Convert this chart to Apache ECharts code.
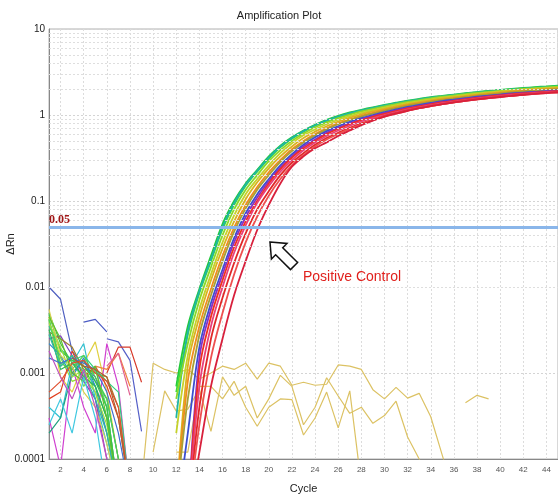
<!DOCTYPE html>
<html><head><meta charset="utf-8">
<script src="https://cdn.jsdelivr.net/npm/echarts@6/dist/echarts.min.js"></script>
<style>html,body{margin:0;padding:0;background:#fff}#c{width:558px;height:495px}</style>
</head><body><div id="c"></div>
<script>
// ---- categories / ticks ----
const cycles = ['1','2','3','4','5','6','7','8','9','10','11','12','13','14','15','16','17','18','19','20','21','22','23','24','25','26','27','28','29','30','31','32','33','34','35','36','37','38','39','40','41','42','43','44','45'];
const yTickLabels = [10, 1, 0.1, 0.01, 0.001, 0.0001];
const thresholdValue = 0.05;
const titleText = 'Amplification Plot';
const annotationText = 'Positive Control';

// ---- amplification curves (values from cycle 12 to 45) ----
const ampStart = 12;
const ampA = [0.0007,0.0035,0.0095,0.023,0.054,0.1,0.16,0.23,0.33,0.44,0.55,0.66,0.77,0.88,0.98,1.07,1.15,1.23,1.31,1.39,1.47,1.54,1.61,1.67,1.73,1.79,1.85,1.91,1.96,2.01,2.06,2.11,2.15,2.19];
const ampN = [0.0006,0.0028,0.0085,0.02,0.047,0.09,0.15,0.22,0.31,0.42,0.53,0.64,0.75,0.85,0.95,1.04,1.12,1.2,1.28,1.36,1.44,1.51,1.58,1.64,1.7,1.76,1.82,1.88,1.93,1.98,2.03,2.08,2.12,2.16];
const ampB = [0.0003,0.003,0.009,0.021,0.05,0.095,0.155,0.225,0.32,0.43,0.54,0.65,0.76,0.86,0.96,1.05,1.13,1.21,1.29,1.37,1.45,1.52,1.59,1.65,1.71,1.77,1.83,1.88,1.93,1.98,2.03,2.07,2.11,2.15];
const ampC = [0.0005,0.0022,0.007,0.017,0.04,0.08,0.135,0.2,0.29,0.39,0.5,0.61,0.72,0.82,0.92,1.01,1.1,1.18,1.26,1.34,1.42,1.49,1.56,1.63,1.69,1.75,1.81,1.86,1.91,1.96,2.01,2.05,2.09,2.13];
const ampD = [0.0002,0.0016,0.0055,0.014,0.033,0.068,0.12,0.18,0.26,0.36,0.47,0.58,0.68,0.78,0.88,0.97,1.06,1.14,1.22,1.3,1.38,1.45,1.52,1.59,1.65,1.71,1.77,1.83,1.88,1.93,1.98,2.02,2.06,2.1];
const ampE = [0.00003,0.0012,0.0045,0.012,0.028,0.058,0.105,0.165,0.24,0.33,0.43,0.54,0.64,0.74,0.84,0.93,1.02,1.1,1.18,1.26,1.34,1.41,1.48,1.55,1.61,1.67,1.73,1.79,1.84,1.89,1.94,1.98,2.02,2.06];
const ampF = [0.00003,0.0008,0.0035,0.0095,0.023,0.049,0.09,0.145,0.215,0.3,0.4,0.5,0.6,0.7,0.8,0.89,0.98,1.06,1.14,1.22,1.3,1.37,1.44,1.51,1.57,1.63,1.69,1.75,1.8,1.85,1.9,1.94,1.98,2.02];
const ampG = [0.00003,0.0005,0.0028,0.008,0.02,0.044,0.082,0.135,0.2,0.285,0.38,0.48,0.58,0.68,0.78,0.87,0.96,1.04,1.12,1.2,1.28,1.35,1.42,1.49,1.55,1.61,1.67,1.73,1.78,1.83,1.88,1.92,1.96,2.0];
const ampH = [0.00002,0.0002,0.002,0.0065,0.016,0.037,0.072,0.12,0.18,0.26,0.35,0.45,0.55,0.65,0.74,0.83,0.92,1.0,1.08,1.16,1.24,1.31,1.38,1.45,1.51,1.57,1.63,1.68,1.73,1.78,1.82,1.86,1.9,1.93];
const ampI = [null,0.00002,0.0015,0.0055,0.014,0.033,0.065,0.11,0.17,0.245,0.33,0.43,0.52,0.62,0.71,0.8,0.89,0.97,1.05,1.13,1.21,1.28,1.35,1.42,1.48,1.54,1.6,1.66,1.71,1.76,1.8,1.84,1.88,1.91];
const ampM = [null,0.00002,0.0011,0.0045,0.012,0.029,0.058,0.1,0.16,0.235,0.32,0.41,0.5,0.6,0.69,0.78,0.87,0.95,1.03,1.11,1.19,1.26,1.33,1.4,1.46,1.52,1.58,1.64,1.69,1.74,1.78,1.82,1.86,1.9];
const ampJ = [null,0.00002,0.0007,0.0035,0.01,0.025,0.052,0.095,0.15,0.22,0.3,0.39,0.48,0.57,0.66,0.75,0.84,0.92,1.0,1.08,1.16,1.23,1.3,1.37,1.43,1.49,1.55,1.61,1.66,1.71,1.75,1.79,1.83,1.86];
const ampK = [null,0.00002,0.0004,0.0025,0.0075,0.019,0.042,0.08,0.13,0.2,0.28,0.36,0.45,0.54,0.62,0.71,0.8,0.88,0.97,1.05,1.13,1.2,1.27,1.34,1.4,1.46,1.52,1.58,1.63,1.68,1.72,1.76,1.8,1.84];
const ampO = [null,0.00002,0.00025,0.0015,0.005,0.014,0.033,0.066,0.115,0.18,0.26,0.34,0.43,0.52,0.6,0.69,0.78,0.87,0.96,1.04,1.12,1.2,1.27,1.34,1.4,1.46,1.52,1.57,1.62,1.67,1.72,1.76,1.8,1.84];
const ampL = [null,0.00002,0.00012,0.0007,0.0025,0.008,0.02,0.046,0.09,0.16,0.25,0.33,0.41,0.48,0.57,0.66,0.76,0.86,0.96,1.04,1.12,1.2,1.27,1.34,1.4,1.46,1.52,1.57,1.62,1.67,1.72,1.76,1.8,1.84];

const ampSeries = [
  ['A', ampA, '#22c83a'], ['N', ampN, '#3ddc3d'], ['B', ampB, '#1fb5a5'], ['C', ampC, '#8ad82a'],
  ['D', ampD, '#c5d22a'], ['E', ampE, '#d9b21f'], ['F', ampF, '#ef8c1e'], ['G', ampG, '#a8a035'],
  ['H', ampH, '#3a4fd0'], ['I', ampI, '#8a2fc2'], ['M', ampM, '#f03020'], ['J', ampJ, '#e8407a'],
  ['K', ampK, '#e02828'], ['O', ampO, '#ee5050'], ['L', ampL, '#d8203c']
];

// ---- early baseline noise (values from cycle 1) ----
const noise1 = [0.01,0.0072,0.0018,0.0012,0.0009,0.0004,0.00004];
const noise2 = [null,null,null,0.0039,0.0042,0.003];
const noise3 = [null,null,null,null,null,0.0025,0.0023,0.0014,0.00021];
const noise4 = [0.005,0.0022,0.0013,0.0011,0.0007,0.0003,0.00004];
const noise5 = [0.004,0.0015,0.0008,0.0009,0.0006,0.0002,0.00004];
const noise6 = [0.0045,0.0009,0.0006,0.0013,0.0023,0.0006,0.0001,0.00004];
const noise7 = [0.0003,0.00008,0.0012,0.0004,0.0002,0.0022,0.0007,0.00004];
const noise8 = [0.0004,0.0003,0.0013,0.0022,0.0005,0.00015,0.00004];
const noise9 = [0.0005,0.0006,0.0018,0.0009,0.0012,0.0007,0.0003,0.00004];
const noise10 = [null,null,null,null,null,0.001,0.002,0.002,0.00078];
const noise11 = [0.0025,0.0027,0.0016,0.0008,0.0005,0.0001,0.00004];
const noise12 = [0.0002,0.0003,0.001,0.0014,0.0008,0.0005,0.0001];
const noise13 = [null,null,null,null,0.0012,0.0011,0.0017,0.0007];
const noise14 = [null,null,null,null,null,0.0012,0.0017,0.00055];
const noise15 = [0.003,0.0025,0.002,0.0011,0.001,0.0009,0.0004,0.00004];
const noise16 = [0.0035,0.0019,0.0014,0.0016,0.0011,0.0008,0.0006,0.00004];
const noise17 = [0.0042,0.0012,0.0016,0.0007,0.0011,0.0004,0.00004];
const noise18 = [0.0022,0.0016,0.0009,0.0015,0.0007,0.0002,0.00004];
const noise19 = [0.0048,0.0018,0.0014,0.0012,0.0008,0.0004,0.00004];
const noise20 = [0.0042,0.0013,0.0011,0.0016,0.0009,0.0005,0.0001,0.00004];
const noise21 = [0.0038,0.002,0.0009,0.0011,0.0006,0.00025,0.00004];
const noise22 = [0.0032,0.0011,0.0013,0.0009,0.0007,0.0003,0.00004];
const noise23 = [0.0055,0.0016,0.0012,0.0006,0.0004,0.00015,0.00004];
const noise24 = [0.0028,0.0012,0.0016,0.001,0.0005,0.0002,0.00004];
const noise25 = [0.0015,0.0013,0.0015,0.0013,0.0011,0.0006,0.0002,0.00004];
const noise26 = [0.0006,0.0008,0.0013,0.0014,0.001,0.0008,0.0004,0.00004];
const noise27 = [0.0045,0.0025,0.001,0.0008,0.0012,0.0003,0.00004];
const noise28 = [0.0018,0.0009,0.0005,0.0011,0.0004,0.0001];
const noise29 = [0.00025,0.0005,0.0002,0.0009,0.0003,0.00004];
const noise30 = [null,null,0.0015,0.0012,0.0011,0.0009,0.0003,0.00004];

const noiseSeries = [
  [noise1,'#5060c0'],[noise2,'#4a5bc4'],[noise3,'#5560c8'],[noise4,'#40c040'],[noise5,'#90e030'],
  [noise6,'#e0d040'],[noise7,'#d040d0'],[noise8,'#30c0d0'],[noise9,'#e04020'],[noise10,'#d83a2a'],
  [noise11,'#8040c0'],[noise12,'#20a080'],[noise13,'#f08040'],[noise14,'#e06090'],[noise15,'#a08030'],
  [noise16,'#30d080'],[noise17,'#60e060'],[noise18,'#2a8ad0'],[noise19,'#38c848'],[noise20,'#50d050'],
  [noise21,'#9ee040'],[noise22,'#28b858'],[noise23,'#d8d050'],[noise24,'#30b8a0'],[noise25,'#4070d0'],
  [noise26,'#e05030'],[noise27,'#60c030'],[noise28,'#c050c0'],[noise29,'#40c8e0'],[noise30,'#b06030']
];

// ---- no-template controls (values from cycle 9) ----
const ntcStart = 9;
const ntc1 = [0.00005,0.0013,0.0011,0.001,0.0011,0.00085,0.001,0.0012,0.0011,0.0013,0.00085,0.0013,0.0012,0.00072,0.00078,0.00072,0.00074,0.00124,0.0012,0.0011,0.00064,0.0005,0.00068,0.00051,0.00058,0.00031,0.00011,0.00004];
const ntc2 = [null,0.00012,0.00062,0.00036,0.00038,0.00065,0.00021,0.0009,0.00055,0.0007,0.0003,0.0005,0.00094,0.0007,0.00025,0.0004,0.00088,0.00054,0.00034,0.0004,0.00026,0.00032,0.00047,0.00018,0.0001,0.00005];
const ntc3 = [null,null,null,0.00012,0.00012,0.0007,0.0007,0.0005,0.0008,0.0004,0.00024,0.0004,0.0005,0.00049,0.00019,0.0003,0.0006,0.00023,0.00062,0.00005];
const ntc4 = [null,null,null,null,null,null,null,null,null,null,null,null,null,null,null,null,null,null,null,null,null,null,null,null,null,null,null,null,0.00045,0.00055,0.0005];

function pad(start, vals) {
  const out = new Array(start - 1).fill(null).concat(vals);
  while (out.length < cycles.length) out.push(null);
  return out.slice(0, cycles.length);
}

const series = [];
// grid minor lines (log decades)
const minorVals = [];
for (let e = -4; e < 1; e++) for (let k = 2; k <= 9; k++) minorVals.push(Number((k * Math.pow(10, e)).toPrecision(1)));
series.push({
  type: 'line', data: [], silent: true, z: 0,
  markLine: { silent: true, symbol: ['none','none'], label: { show: false },
    lineStyle: { color: '#dedede', type: [2, 2], width: 1 },
    data: minorVals.map(v => ({ yAxis: v })) , animation: false }
});
noiseSeries.forEach(([vals, col]) => series.push({
  type: 'line', data: pad(1, vals), showSymbol: false, symbol: 'none',
  lineStyle: { width: 1.2, color: col }, itemStyle: { color: col }, animation: false, z: 2
}));
[ntc1, ntc2, ntc3, ntc4].forEach(vals => series.push({
  type: 'line', data: pad(ntcStart, vals), showSymbol: false, symbol: 'none',
  lineStyle: { width: 1.2, color: '#dcc264' }, animation: false, z: 2
}));
ampSeries.forEach(([n, vals, col]) => series.push({
  name: n, type: 'line', data: pad(ampStart, vals), showSymbol: false, symbol: 'none', smooth: 0.35,
  lineStyle: { width: 1.8, color: col }, animation: false, z: 3
}));
series.push({
  type: 'line', data: [], z: 10,
  markLine: { silent: true, symbol: ['none','none'], animation: false,
    lineStyle: { color: '#8ab6ea', type: 'solid', width: 3 },
    label: { show: true, position: 'insideStartTop', formatter: String(thresholdValue), color: '#a01818',
      fontFamily: 'Liberation Serif', fontWeight: 'bold', fontSize: 12, distance: [0, 1] },
    data: [{ yAxis: thresholdValue }] }
});

const chart = echarts.init(document.getElementById('c'), null, { renderer: 'canvas' });
chart.setOption({
  animation: false,
  backgroundColor: '#ffffff',
  title: { text: titleText, left: 'center', top: 5,
    textStyle: { fontSize: 11, fontWeight: 'normal', color: '#222', fontFamily: '"Liberation Sans Narrow", "Liberation Sans"' } },
  grid: { left: 49, top: 29, right: 0, bottom: 36, containLabel: false, outerBoundsMode: 'none',
    show: true, borderColor: '#b0b0b0', borderWidth: 1 },
  xAxis: {
    type: 'category', data: cycles, boundaryGap: false,
    name: 'Cycle', nameLocation: 'middle', nameGap: 24,
    nameTextStyle: { fontSize: 11, color: '#222', fontFamily: '"Liberation Sans Narrow", "Liberation Sans"' },
    axisLine: { lineStyle: { color: '#888' } }, axisTick: { show: false },
    axisLabel: { interval: (i, v) => Number(v) % 2 === 0, fontSize: 8, color: '#555', margin: 7, fontFamily: '"Liberation Sans Narrow", "Liberation Sans"' },
    splitLine: { show: true, interval: (i, v) => Number(v) % 2 === 0, lineStyle: { color: '#dcdcdc', type: [2, 2] } }
  },
  yAxis: {
    type: 'log', logBase: 10, min: 0.0001, max: 10,
    name: 'ΔRn', nameLocation: 'middle', nameGap: 33, nameMoveOverlap: false,
    nameTextStyle: { fontSize: 11, color: '#222', fontFamily: '"Liberation Sans Narrow", "Liberation Sans"' },
    axisLine: { show: true, lineStyle: { color: '#888' } }, axisTick: { show: false },
    axisLabel: { fontSize: 10, color: '#222', margin: 4, fontFamily: '"Liberation Sans Narrow", "Liberation Sans"',
      formatter: v => { const r = Number(Number(v).toPrecision(1)); return yTickLabels.indexOf(r) >= 0 ? String(r) : ''; } },
    splitLine: { show: true, lineStyle: { color: '#d4d4d4', type: [2, 2] } }
  },
  series: series
});

// annotation: outlined arrow + text
const tip = [270, 242];
const ang = Math.PI * 1.25; // pointing up-left
const local = [[0,0],[13,-11],[13,-5],[34,-5],[34,5],[13,5],[13,11]];
const pts = local.map(([x, y]) => {
  const c = Math.cos(ang + Math.PI), s = Math.sin(ang + Math.PI);
  return [tip[0] + x * c - y * s, tip[1] + x * s + y * c];
});
chart.setOption({
  graphic: [
    { type: 'polygon', shape: { points: pts }, style: { fill: '#fff', stroke: '#111', lineWidth: 1.5 }, z: 20 },
    { type: 'text', left: 303, top: 270, style: { text: annotationText, fill: '#e0201c', font: '14px "Liberation Sans"' }, z: 20 }
  ]
});
</script></body></html>
